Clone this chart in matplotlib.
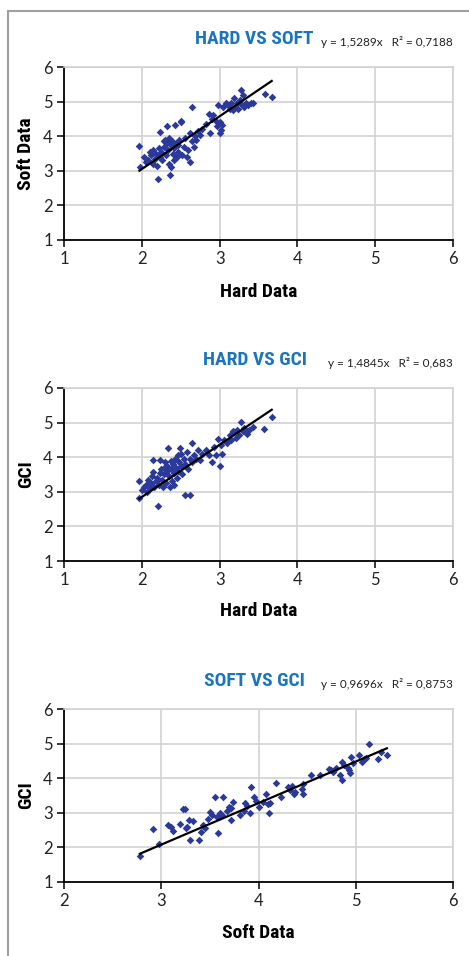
import matplotlib
matplotlib.use("Agg")
import matplotlib.pyplot as plt
from matplotlib.lines import Line2D
from matplotlib import font_manager

# ---- data ------------------------------------------------------------------
hard1 = [1.97, 1.98, 2.03, 2.05, 2.08, 2.10, 2.12, 2.14, 2.15, 2.17, 2.18, 2.20, 2.21, 2.22,
         2.23, 2.24, 2.25, 2.26, 2.28, 2.29, 2.30, 2.31, 2.32, 2.33, 2.34, 2.35, 2.35, 2.36,
         2.37, 2.38, 2.39, 2.40, 2.41, 2.42, 2.43, 2.44, 2.45, 2.46, 2.47, 2.48, 2.50, 2.51,
         2.52, 2.54, 2.56, 2.58, 2.60, 2.62, 2.62, 2.64, 2.65, 2.67, 2.68, 2.70, 2.72, 2.75,
         2.78, 2.82, 2.87, 2.88, 2.90, 2.92, 2.95, 2.97, 2.98, 3.00, 3.01, 3.02, 3.03, 3.05,
         3.08, 3.11, 3.13, 3.15, 3.17, 3.19, 3.20, 3.22, 3.24, 3.26, 3.28, 3.29, 3.30, 3.32,
         3.34, 3.36, 3.40, 3.43, 3.58, 3.67]
soft1 = [3.71, 3.10, 3.40, 3.25, 3.30, 3.55, 3.45, 3.60, 3.20, 3.35, 3.50, 3.15, 2.75, 3.65,
         4.12, 3.40, 3.55, 3.30, 3.85, 3.70, 3.90, 3.45, 4.30, 3.80, 3.60, 3.95, 3.20, 2.89,
         3.75, 3.10, 3.85, 3.50, 3.65, 3.30, 4.32, 3.80, 3.40, 3.55, 3.75, 3.90, 4.40, 4.44,
         3.45, 3.70, 3.95, 3.40, 3.60, 3.26, 4.10, 4.85, 3.85, 3.70, 4.00, 3.90, 4.15, 4.04,
         4.20, 4.35, 4.65, 4.10, 4.50, 4.61, 4.45, 4.30, 4.90, 4.08, 4.40, 4.18, 4.32, 4.85,
         4.95, 4.90, 4.80, 4.95, 4.75, 5.09, 4.85, 4.95, 4.80, 5.05, 5.33, 4.90, 5.20, 4.85,
         4.95, 4.90, 4.95, 4.97, 5.21, 5.14]

hard2 = [1.97, 1.97, 2.00, 2.03, 2.05, 2.07, 2.08, 2.10, 2.12, 2.13, 2.15, 2.15, 2.16, 2.18,
         2.20, 2.21, 2.22, 2.23, 2.24, 2.25, 2.26, 2.27, 2.28, 2.29, 2.30, 2.31, 2.32, 2.33,
         2.34, 2.35, 2.36, 2.37, 2.38, 2.39, 2.40, 2.41, 2.42, 2.43, 2.44, 2.45, 2.46, 2.47,
         2.48, 2.49, 2.50, 2.51, 2.52, 2.54, 2.55, 2.56, 2.58, 2.60, 2.62, 2.62, 2.64, 2.65,
         2.67, 2.70, 2.72, 2.75, 2.78, 2.82, 2.86, 2.90, 2.93, 2.96, 2.98, 3.00, 3.02, 3.03,
         3.06, 3.10, 3.13, 3.15, 3.17, 3.19, 3.21, 3.23, 3.25, 3.28, 3.30, 3.32, 3.35, 3.38,
         3.43, 3.57, 3.67]
gci2 = [3.31, 2.83, 3.05, 3.14, 3.20, 3.00, 3.35, 3.10, 3.25, 3.45, 3.93, 3.57, 3.15, 3.30,
        3.40, 2.60, 3.20, 3.93, 3.55, 3.65, 3.35, 3.15, 3.70, 3.50, 3.85, 3.25, 3.60, 3.75,
        4.28, 3.45, 3.15, 3.90, 3.65, 3.30, 3.80, 3.55, 3.20, 3.95, 3.70, 3.40, 4.05, 3.60,
        3.85, 4.27, 3.75, 4.10, 3.50, 3.95, 2.90, 3.80, 4.15, 3.65, 2.90, 3.95, 4.41, 3.85,
        4.05, 3.95, 4.20, 3.91, 4.10, 4.20, 4.05, 3.86, 4.30, 4.05, 4.54, 3.75, 4.35, 4.10,
        4.50, 4.40, 4.63, 4.50, 4.75, 4.73, 4.55, 4.80, 4.65, 5.02, 4.75, 4.85, 4.68, 4.80,
        4.87, 4.82, 5.16]

soft3 = [2.78, 2.92, 2.98, 3.07, 3.10, 3.12, 3.19, 3.22, 3.24, 3.25, 3.26, 3.29, 3.30, 3.33,
         3.39, 3.41, 3.43, 3.45, 3.48, 3.50, 3.52, 3.55, 3.57, 3.58, 3.58, 3.60, 3.62, 3.64,
         3.68, 3.70, 3.72, 3.72, 3.74, 3.81, 3.85, 3.86, 3.88, 3.91, 3.92, 3.95, 3.97, 4.00,
         4.05, 4.08, 4.10, 4.11, 4.12, 4.18, 4.23, 4.30, 4.32, 4.34, 4.36, 4.38, 4.45, 4.46,
         4.46, 4.54, 4.63, 4.73, 4.75, 4.77, 4.80, 4.84, 4.86, 4.86, 4.88, 4.92, 4.93, 4.94,
         4.95, 4.97, 5.03, 5.06, 5.08, 5.11, 5.14, 5.23, 5.26, 5.32]
gci3 = [1.75, 2.54, 2.10, 2.66, 2.60, 2.48, 2.69, 3.10, 3.12, 2.55, 2.59, 2.79, 2.21, 2.75,
        2.21, 2.45, 2.64, 2.55, 2.83, 3.03, 2.95, 3.46, 2.88, 2.42, 2.92, 2.98, 2.95, 3.46,
        3.05, 3.17, 2.79, 3.15, 3.32, 2.93, 3.05, 3.27, 3.20, 2.98, 3.75, 3.46, 3.35, 3.17,
        3.30, 3.55, 3.25, 2.98, 3.27, 3.86, 3.46, 3.75, 3.65, 3.78, 3.55, 3.60, 3.70, 3.84,
        3.55, 4.09, 4.09, 4.28, 4.25, 4.18, 4.30, 4.09, 3.94, 4.48, 4.38, 4.30, 4.24, 4.15,
        4.62, 4.45, 4.66, 4.48, 4.55, 4.58, 4.99, 4.55, 4.77, 4.68]

# trend lines as drawn (slope, intercept)
fit_slope = [1.525, 1.51, 1.20]
fit_icept = [0.0, -0.17, -1.52]

titles = ["HARD VS SOFT", "HARD VS GCI", "SOFT VS GCI"]
equations = ["y = 1,5289x   R² = 0,7188", "y = 1,4845x   R² = 0,683",
             "y = 0,9696x   R² = 0,8753"]
xlabels = ["Hard Data", "Hard Data", "Soft Data"]
ylabels = ["Soft Data", "GCI", "GCI"]
xlims = [(1, 6), (1, 6), (2, 6)]

panels = [(hard1, soft1), (hard2, gci2), (soft3, gci3)]

# ---- drawing -----------------------------------------------------------------
W, H = 469, 956
fig = plt.figure(figsize=(W / 100, H / 100), dpi=100)

installed = {f.name for f in font_manager.fontManager.ttflist}
bold_name = next((n for n in ["Roboto Condensed", "Liberation Sans Narrow", "Open Sans Condensed",
                              "Roboto"] if n in installed), "DejaVu Sans")
bold_font = [bold_name, "DejaVu Sans"]
tick_font = ["Lato", "DejaVu Sans"]
blue = "#1b75bc"
dot = "#2b3a9a"
grid_c = "#d2d2d2"

# axes boxes in pixels: (top, bottom)
boxes = [(67, 240), (388, 561), (709, 882)]
xlab_rows = [292, 611, 933]
left_px, right_px = 64, 453

for i, (xs, ys) in enumerate(panels):
    top, bot = boxes[i]
    ax = fig.add_axes([left_px / W, 1 - bot / H, (right_px - left_px) / W, (bot - top) / H])
    ax.scatter(xs, ys, marker="D", s=15, color=dot, linewidths=0, zorder=3)

    x0, x1 = min(xs), max(xs)
    ax.plot([x0, x1], [fit_slope[i] * x0 + fit_icept[i], fit_slope[i] * x1 + fit_icept[i]],
            color="black", lw=1.6, zorder=4)

    ax.set_xlim(*xlims[i])
    ax.set_ylim(1, 6)
    ax.set_xticks(range(xlims[i][0], 7))
    ax.set_yticks(range(1, 7))
    ax.grid(True, color=grid_c, lw=1.2)
    ax.set_axisbelow(True)
    for side in ("top", "right"):
        ax.spines[side].set_color(grid_c)
        ax.spines[side].set_linewidth(1.2)
    for side in ("left", "bottom"):
        ax.spines[side].set_color("black")
        ax.spines[side].set_linewidth(1.3)
    ax.tick_params(length=5, width=1.1, pad=3, labelsize=12, colors="black")
    for lab in ax.get_xticklabels() + ax.get_yticklabels():
        lab.set_family(tick_font)
        lab.set_color("#222222")

    ax.set_xlabel(xlabels[i], family=bold_font, fontweight="bold", fontsize=14,
                  fontstretch="condensed")
    ax.set_ylabel(ylabels[i], family=bold_font, fontweight="bold", fontsize=14,
                  fontstretch="condensed")
    ax.xaxis.set_label_coords(0.5, -(xlab_rows[i] - bot) / (bot - top))
    ax.yaxis.set_label_coords(-(64 - 26) / (right_px - left_px), 0.5)
    ax.xaxis.label.set_va("center")
    ax.yaxis.label.set_va("center")

    ty = top - 28
    ax.text(0.49, 1 + (top - ty) / (bot - top), titles[i], transform=ax.transAxes,
            ha="center", va="center", family=bold_font, fontweight="bold",
            fontstretch="condensed", fontsize=14, color=blue)
    ax.text(1.0, 1 + (top - ty - 3) / (bot - top), equations[i], transform=ax.transAxes,
            ha="right", va="center", family=tick_font, fontsize=8.5, color="#222222")

# page frame
fig.add_artist(Line2D([8 / W, 8 / W], [0, 1 - 11 / H], color="#a0a0a0", lw=1.5))
fig.add_artist(Line2D([8 / W, 1], [1 - 11 / H, 1 - 11 / H], color="#a0a0a0", lw=1.5))

fig.savefig("out.png", dpi=100)
